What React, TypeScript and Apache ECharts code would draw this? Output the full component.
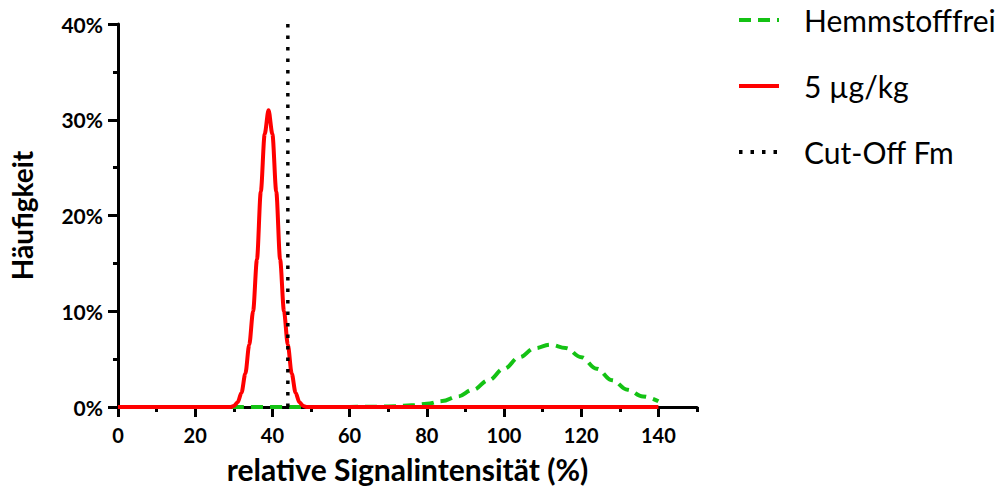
import React, { useEffect, useRef } from "react";
import * as echarts from "echarts";

// Data
const seriesNames = ["Hemmstofffrei", "5 µg/kg", "Cut-Off Fm"];

const greenX = [0, 56, 60, 64, 68, 72, 76, 80, 84, 88, 92, 96, 100, 104, 108, 112, 116, 120, 124, 128, 132, 136, 140];
const greenY = [0, 0, 0.01, 0.02, 0.04, 0.08, 0.17, 0.33, 0.62, 1.1, 1.8, 2.8, 4.0, 5.2, 6.15, 6.5, 6.15, 5.2, 4.0, 2.8, 1.8, 1.1, 0.6];

const redX = [0, 28, 29, 30, 31, 32, 33, 34, 35, 36, 37, 38, 39, 40, 41, 42, 43, 44, 45, 46, 47, 48, 49, 50, 140];
const redY = [0, 0, 0, 0.1, 0.5, 1.5, 3.5, 6.5, 10, 15.4, 22.5, 28.5, 31, 28.5, 22.5, 15.4, 10, 6.5, 3.5, 1.5, 0.5, 0.1, 0, 0, 0];

const cutOffX = [44, 44];
const cutOffY = [0, 40];

const xMajorTicks = [0, 20, 40, 60, 80, 100, 120, 140];
const yTicks = [0, 10, 20, 30, 40];

const zip = (xs: number[], ys: number[]) => xs.map((x, i) => [x, ys[i]]);

const FONT = "Lato";

export default function App() {
  const ref = useRef<HTMLDivElement>(null);
  useEffect(() => {
    if (!ref.current) return;
    const chart = echarts.init(ref.current, undefined, { renderer: "svg" });
    chart.setOption({
      animation: false,
      textStyle: { fontFamily: FONT },
      grid: { left: 118, right: 303, top: 24, bottom: 83, containLabel: false },
      legend: {
        orient: "vertical",
        left: 732,
        top: 0,
        itemWidth: 40,
        itemHeight: 14,
        itemGap: 36,
        data: seriesNames,
        itemStyle: { color: "transparent", borderWidth: 0, opacity: 0 },
        lineStyle: { width: 4 },
        textStyle: {
          fontFamily: FONT,
          fontSize: 30,
          color: "#000",
          padding: [0, 0, 0, 20],
        },
      },
      xAxis: [
        {
          type: "value",
          min: 0,
          max: 150,
          interval: 20,
          position: "bottom",
          name: "relative Signalintensität (%)",
          nameLocation: "middle",
          nameGap: 47,
          nameTextStyle: { fontFamily: FONT, fontSize: 30, fontWeight: "bold", color: "#000" },
          axisLine: { show: true, lineStyle: { color: "#000", width: 3 } },
          axisTick: { show: true, length: 10, lineStyle: { color: "#000", width: 3 }, customValues: xMajorTicks },
          axisLabel: {
            customValues: xMajorTicks,
            margin: 18,
            fontFamily: FONT,
            fontSize: 20,
            fontWeight: "bold",
            color: "#000",
          },
          splitLine: { show: false },
        },
        {
          type: "value",
          min: 0,
          max: 150,
          interval: 10,
          position: "bottom",
          axisLine: { show: false },
          axisTick: { show: true, length: 5, lineStyle: { color: "#000", width: 3 } },
          axisLabel: { show: false },
          splitLine: { show: false },
        },
      ],
      yAxis: {
        type: "value",
        min: yTicks[0],
        max: yTicks[yTicks.length - 1],
        interval: 10,
        name: "Häufigkeit",
        nameLocation: "middle",
        nameGap: 82,
        nameRotate: 90,
        nameTextStyle: { fontFamily: FONT, fontSize: 28, fontWeight: "bold", color: "#000", padding: [0, 0, 0, 0] },
        axisLine: { show: true, lineStyle: { color: "#000", width: 3 } },
        axisTick: { show: true, length: 10, lineStyle: { color: "#000", width: 3 } },
        minorTick: { show: true, splitNumber: 2, length: 5, lineStyle: { color: "#000", width: 3 } },
        axisLabel: {
          margin: 15,
          formatter: (v: number) => `${v}%`,
          fontFamily: FONT,
          fontSize: 21,
          fontWeight: "bold",
          color: "#000",
        },
        splitLine: { show: false },
        minorSplitLine: { show: false },
      },
      series: [
        {
          name: seriesNames[0],
          type: "line",
          xAxisIndex: 0,
          data: zip(greenX, greenY),
          symbol: "none",
          smooth: 0.4,
          smoothMonotone: "x",
          color: "#14c214",
          lineStyle: { color: "#14c214", width: 4, type: [12, 7], cap: "butt" },
          z: 2,
        },
        {
          name: seriesNames[1],
          type: "line",
          xAxisIndex: 0,
          data: zip(redX, redY),
          symbol: "none",
          smooth: 0.3,
          smoothMonotone: "x",
          color: "#ff0000",
          lineStyle: { color: "#ff0000", width: 4, type: "solid" },
          z: 3,
        },
        {
          name: seriesNames[2],
          type: "line",
          xAxisIndex: 0,
          data: zip(cutOffX, cutOffY),
          symbol: "none",
          color: "#000",
          lineStyle: { color: "#000", width: 3.5, type: [3.5, 8], cap: "butt" },
          z: 4,
        },
      ],
    });
    return () => chart.dispose();
  }, []);
  return <div ref={ref} style={{ width: 1000, height: 490, position: "absolute", left: 0, top: 0 }} />;
}
